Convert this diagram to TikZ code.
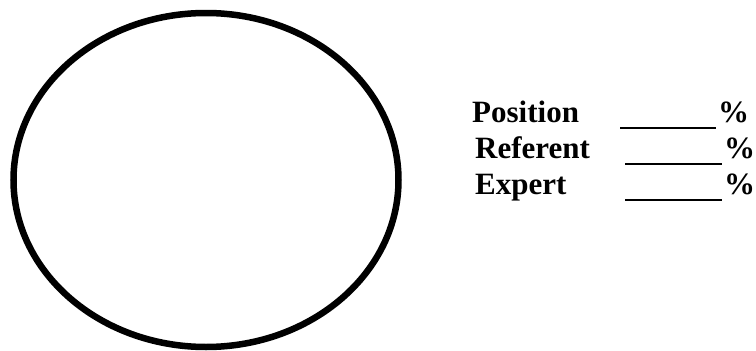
\documentclass[tikz,border=0pt]{standalone}
\usepackage{fontspec}
\setmainfont{Liberation Serif}
\begin{document}
\begin{tikzpicture}[x=1pt,y=-1pt,
  lbl/.style={anchor=base west,inner sep=0pt,font=\fontsize{31}{31}\selectfont\bfseries},
  blank/.style={line width=2.5pt}]
\useasboundingbox (0,0) rectangle (756,351);
\draw[line width=6.5pt] (206,180) ellipse [x radius=192.5, y radius=167];
\node[lbl] (pos) at (472,122) {Position};
\node[lbl] (ref) at (475,158) {Referent};
\node[lbl] (exp) at (475,194) {Expert};
\coordinate (p1) at (620,128); \coordinate (p2) at (716,128);
\coordinate (r1) at (625,164); \coordinate (r2) at (722,164);
\coordinate (e1) at (625,200); \coordinate (e2) at (722,200);
\draw[blank] (p1) -- (p2);
\draw[blank] (r1) -- (r2);
\draw[blank] (e1) -- (e2);
\node[lbl] (pp) at (718,122) {\%};
\node[lbl] (rp) at (724,158) {\%};
\node[lbl] (ep) at (724,194) {\%};
\end{tikzpicture}
\end{document}
